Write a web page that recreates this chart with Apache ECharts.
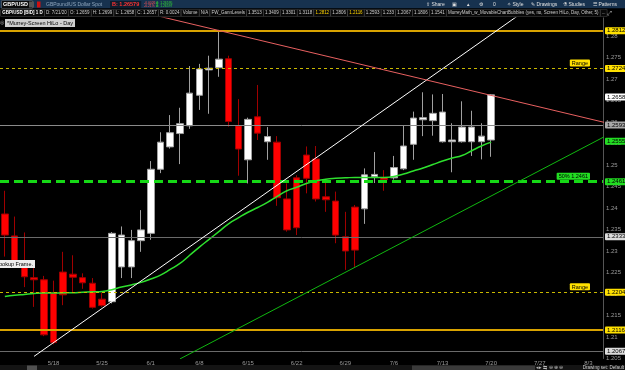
<!DOCTYPE html>
<html>
<head>
<meta charset="utf-8">
<title>GBP/USD 1D</title>
<style>
html,body{margin:0;padding:0;background:#000;}
#myChart{width:625px;height:370px;}
</style>
</head>
<body>
<div id="myChart"></div>
<script src="https://cdn.jsdelivr.net/npm/echarts@6/dist/echarts.min.js"></script>
<script>
// trading days, 5/11 .. 8/4
var dates = ['5/11','5/12','5/13','5/14','5/15','5/18','5/19','5/20','5/21','5/22',
	'5/25','5/26','5/27','5/28','5/29','6/1','6/2','6/3','6/4','6/5',
	'6/8','6/9','6/10','6/11','6/12','6/15','6/16','6/17','6/18','6/19',
	'6/22','6/23','6/24','6/25','6/26','6/29','6/30','7/1','7/2','7/3',
	'7/6','7/7','7/8','7/9','7/10','7/13','7/14','7/15','7/16','7/17',
	'7/20','7/21','7/22','7/23','7/24','7/27','7/28','7/29','7/30','7/31',
	'8/3','8/4'];
var open  = [1.2386,1.2335,1.2272,1.2238,1.2233,1.2202,1.2251,1.2246,1.2238,1.2225,
	1.2188,1.2182,1.2263,1.2263,1.2324,1.2341,1.2490,1.2542,1.2573,1.2591,
	1.2662,1.2721,1.2726,1.2747,1.2591,1.2512,1.2612,1.2554,1.2553,1.2421,
	1.2470,1.2523,1.2514,1.2426,1.2416,1.2333,1.2402,1.2398,1.2473,1.2471,
	1.2470,1.2491,1.2548,1.2605,1.2603,1.2554,1.2554,1.2554,1.2554,1.2554,1.2558];
var close = [1.2337,1.2272,1.2240,1.2233,1.2105,1.2087,1.2198,1.2239,1.2226,1.2169,
	1.2173,1.2341,1.2337,1.2324,1.2349,1.2490,1.2553,1.2575,1.2596,1.2667,
	1.2723,1.2725,1.2746,1.2601,1.2537,1.2606,1.2574,1.2566,1.2424,1.2349,
	1.2354,1.2469,1.2421,1.2419,1.2337,1.2300,1.2302,1.2477,1.2478,1.2466,
	1.2494,1.2544,1.2609,1.2610,1.2620,1.2623,1.2558,1.2588,1.2588,1.2567,1.2663];
var low   = [1.2287,1.2266,1.2216,1.2170,1.2102,1.2083,1.2174,1.2205,1.2212,1.2166,
	1.2170,1.2178,1.2237,1.2237,1.2298,1.2326,1.2481,1.2538,1.2502,1.2584,
	1.2628,1.2619,1.2705,1.2589,1.2475,1.2457,1.2558,1.2512,1.2405,1.2345,
	1.2337,1.2434,1.2415,1.2391,1.2318,1.2256,1.2263,1.2363,1.2458,1.2440,
	1.2466,1.2488,1.2512,1.2567,1.2568,1.2552,1.2483,1.2552,1.2521,1.2513,1.2519];
var high  = [1.2440,1.2380,1.2343,1.2260,1.2242,1.2231,1.2298,1.2290,1.2248,1.2237,
	1.2203,1.2344,1.2357,1.2349,1.2395,1.2509,1.2576,1.2616,1.2633,1.2730,
	1.2735,1.2754,1.2814,1.2754,1.2653,1.2610,1.2686,1.2588,1.2567,1.2457,
	1.2476,1.2543,1.2544,1.2461,1.2438,1.2391,1.2407,1.2492,1.2530,1.2488,
	1.2521,1.2591,1.2624,1.2669,1.2664,1.2665,1.2597,1.2648,1.2626,1.2597,1.2665];
var ma    = [1.2194,1.2197,1.2199,1.2201,1.2202,1.2202,1.2203,1.2203,1.2204,1.2205,
	1.2206,1.2210,1.2216,1.2221,1.2227,1.2235,1.2244,1.2257,1.2271,1.2290,
	1.2309,1.2327,1.2345,1.2363,1.2377,1.2390,1.2401,1.2413,1.2427,1.2440,
	1.2448,1.2457,1.2463,1.2467,1.2469,1.2470,1.2471,1.2471,1.2471,1.2471,
	1.2473,1.2479,1.2486,1.2493,1.2501,1.2509,1.2516,1.2522,1.2533,1.2544,1.2553];
// trendlines: [bar index, price]
var whiteTrend = [[3, 1.2055], [53, 1.2851]];
var redTrend   = [[16, 1.2845], [62, 1.2597]];
var greenTrend = [[18, 1.2049], [62, 1.2570]];
// horizontal levels
var goldLevels  = [1.2812, 1.2116];
var grayLevels  = [1.2593, 1.2333, 1.2067];
var rangeLevels = [1.2724, 1.2204];
var halfLevel = 1.2461;
var lastPrice = 1.2658;
var maLast = 1.2555;
// study header cells
var headCells = ['GBP/USD [BID] 1 D', 'D: 7/21/20', 'O: 1.2659', 'H: 1.2699', 'L: 1.2658', 'C: 1.2657',
	'R: 0.0024', 'Volume', 'N/A', 'FW_GannLevels', '1.3513', '1.3409', '1.3301', '1.3118', '1.2812',
	'1.2806', '1.2116', '1.2593', '1.233', '1.2067', '1.1806', '1.1541',
	'MurreyMath_w_MovableChartBubbles (yes, no, Screen HiLo, Day, Other, 5)', '...'];

var font = 'Liberation Sans';
var candles = open.map(function (o, i) { return [o, close[i], low[i], high[i]]; });
var clear = 'rgba(0,0,0,0)';

function level(v, color, width, type, bg) {
	return {
		yAxis: v,
		lineStyle: {color: color, width: width, type: type},
		label: {show: true, position: 'end', distance: 2, formatter: v.toFixed(4),
			backgroundColor: bg, color: '#000', fontSize: 6, fontFamily: font, padding: [1, 2, 0, 2], borderRadius: 1}
	};
}
function tag(v, text, bg) {
	return {
		yAxis: v,
		lineStyle: {color: clear, width: 1},
		label: {show: true, position: 'insideEndTop', distance: [13, 2], formatter: text,
			backgroundColor: bg, color: '#000', fontSize: 5.5, fontFamily: font, padding: [1, 2, 0, 2], borderRadius: 1}
	};
}

var marks = [];
goldLevels.forEach(function (v) { marks.push(level(v, '#d9a300', 2, 'solid', '#ffe000')); });
marks.push(level(grayLevels[0], '#8a8a8a', 1, 'solid', '#a8a8a8'));
marks.push(level(grayLevels[1], '#6a6a6a', 1, 'solid', '#dcdcdc'));
marks.push(level(grayLevels[2], '#6a6a6a', 1, 'solid', '#dcdcdc'));
rangeLevels.forEach(function (v) {
	marks.push(level(v, '#c9b800', 1, [3, 3], '#ffe000'));
	marks.push(tag(v, 'Range', '#ffe000'));
});
marks.push(level(halfLevel, '#16d916', 3, [9, 5], '#22dd22'));
marks.push(tag(halfLevel, '50% ' + halfLevel.toFixed(4), '#22dd22'));
marks.push(level(lastPrice, clear, 1, 'solid', '#ffffff'));
marks.push(level(maLast, clear, 1, 'solid', '#22dd22'));

function txt(t, x, y, fill, size, extra) {
	var s = {text: t, x: x, y: y, fill: fill, fontSize: size || 5.5, fontFamily: font, verticalAlign: 'middle'};
	for (var k in extra) s[k] = extra[k];
	return {type: 'text', style: s, z: 100};
}

var graphics = [
	{type: 'rect', shape: {x: 0, y: 0, width: 625, height: 8.5}, style: {fill: '#17324f'}, z: 90},
	{type: 'rect', shape: {x: 0, y: 8.5, width: 625, height: 9}, style: {fill: '#000'}, z: 90},
	txt('GBP/USD', 2, 4.5, '#fff', 5.5, {fontWeight: 'bold', backgroundColor: '#0b0b0b', borderColor: '#666', borderWidth: 0.6, padding: [0.5, 4, 0.5, 1]}),
	{type: 'rect', shape: {x: 29, y: 1.5, width: 5, height: 6}, style: {fill: '#555'}, z: 100},
	{type: 'rect', shape: {x: 37, y: 1.5, width: 3.5, height: 6}, style: {fill: '#d01010'}, z: 100},
	txt('GBPound/US Dollar Spot', 46, 4.5, '#8fa6bd', 5),
	txt('B: 1.26579', 110, 4.5, '#ff3333', 5.5, {fontWeight: 'bold', backgroundColor: '#0d1d2e', padding: [0.5, 2]}),
	txt('-0.0026', 144, 2.6, '#ff5555', 3.4), txt('-0.21%', 144, 6.2, '#ff5555', 3.4),
	txt('A: 1.26595', 156, 2.6, '#33dd33', 3.4), txt('A: 1.26597', 156, 6.2, '#33dd33', 3.4),
	txt('\u21EA Share', 426, 4.5, '#e0e0e0', 5),
	txt('\u25A3', 452, 4.5, '#e0e0e0', 5), txt('\u25B2', 466, 4.5, '#e0e0e0', 4.5),
	txt('\u2699', 479, 4.5, '#e0e0e0', 5), txt('0', 493, 4.5, '#e0e0e0', 5),
	txt('\u2727 Style', 507, 4.5, '#e0e0e0', 5), txt('\u270E Drawings', 531, 4.5, '#e0e0e0', 5),
	txt('\u2697 Studies', 563, 4.5, '#e0e0e0', 5), txt('\u2630 Patterns', 593, 4.5, '#e0e0e0', 5),
	txt('\u2922', 607, 13, '#ddd', 6),
	txt('\u25CE', 0, 23, '#aaa', 5),
	txt('*Murrey-Screen HiLo - Day', 5, 23, '#000', 5.5, {backgroundColor: '#cfcfcf', padding: [1, 2]}),
	txt('Lookup Frame.', -6, 264, '#000', 5.5, {backgroundColor: '#eeeeee', padding: [1, 2]}),
	{type: 'rect', shape: {x: 0, y: 365, width: 625, height: 5}, style: {fill: '#141414'}, z: 90},
	{type: 'rect', shape: {x: 27, y: 365.5, width: 10, height: 4.5}, style: {fill: '#505050'}, z: 100},
	{type: 'rect', shape: {x: 412, y: 365.5, width: 123, height: 4.5}, style: {fill: '#3a3a3a'}, z: 100},
	txt('\u25C2\u25B8 \u21C6 \u2296 \u2295 \u2296', 536, 367.5, '#bbb', 4.5),
	txt('Drawing set: Default', 624, 367.5, '#cfcfcf', 4.6, {align: 'right'})
];

// lay the header cells out one after another so they fit before x=602
var ctx = document.createElement('canvas').getContext('2d');
function textW(t, size, bold) {
	ctx.font = (bold ? 'bold ' : '') + size + 'px "' + font + '"';
	return ctx.measureText(t).width;
}
var pad = 1.2, gap = 0.8, total = 0;
headCells.forEach(function (t, i) { total += textW(t, 5, i === 0) + 2 * pad + gap; });
var cellSize = Math.min(5.5, 5 * 600 / total);
var cx = 1;
headCells.forEach(function (t, i) {
	var yellow = t === '1.2812' || t === '1.2116';
	graphics.push(txt(t, cx, 13, i === 0 ? '#fff' : (yellow ? '#ffd400' : '#cfcfcf'), cellSize, {
		fontWeight: i === 0 ? 'bold' : 'normal',
		borderColor: '#4a4a4a', borderWidth: 0.6, padding: [1, pad], backgroundColor: '#080808'
	}));
	cx += textW(t, cellSize, i === 0) + 2 * pad + gap;
});

var myChart = echarts.init(document.getElementById('myChart'));
var option = {
	backgroundColor: '#000',
	animation: false,
	grid: {left: 0, right: 22, top: 17, bottom: 11.5},
	xAxis: {
		type: 'category',
		data: dates,
		boundaryGap: true,
		axisLine: {show: false},
		axisTick: {show: false},
		splitLine: {show: false},
		axisLabel: {
			color: '#9a9a9a', fontSize: 6, fontFamily: font, margin: 2,
			interval: function (i) { return i > 0 && i % 5 === 0; }
		}
	},
	yAxis: {
		type: 'value',
		position: 'right',
		min: 1.205,
		max: 1.2844,
		interval: 0.005,
		axisLine: {show: true, lineStyle: {color: '#555'}},
		axisTick: {show: false},
		splitLine: {show: false},
		axisLabel: {
			color: '#9a9a9a', fontSize: 6, fontFamily: font, margin: 3, showMaxLabel: false,
			formatter: function (v) { return String(+v.toFixed(3)); }
		}
	},
	graphic: graphics,
	series: [{
		type: 'candlestick',
		data: candles,
		barWidth: 7,
		itemStyle: {
			color: '#ffffff',
			color0: '#ff0000',
			borderColor: '#a0a0a0',
			borderColor0: '#a00000',
			borderWidth: 1
		},
		markLine: {
			silent: true,
			symbol: ['none', 'none'],
			precision: 4,
			data: marks
		},
		z: 3
	}, {
		type: 'line',
		data: ma,
		smooth: true,
		showSymbol: false,
		lineStyle: {color: '#2ee02e', width: 1.5},
		z: 4
	}, {
		type: 'line',
		data: whiteTrend,
		showSymbol: false,
		lineStyle: {color: '#ffffff', width: 1},
		z: 5
	}, {
		type: 'line',
		data: redTrend,
		showSymbol: false,
		lineStyle: {color: '#e86060', width: 1},
		z: 5
	}, {
		type: 'line',
		data: greenTrend,
		showSymbol: false,
		lineStyle: {color: '#10b810', width: 1},
		z: 5
	}]
};
myChart.setOption(option);
</script>
</body>
</html>
